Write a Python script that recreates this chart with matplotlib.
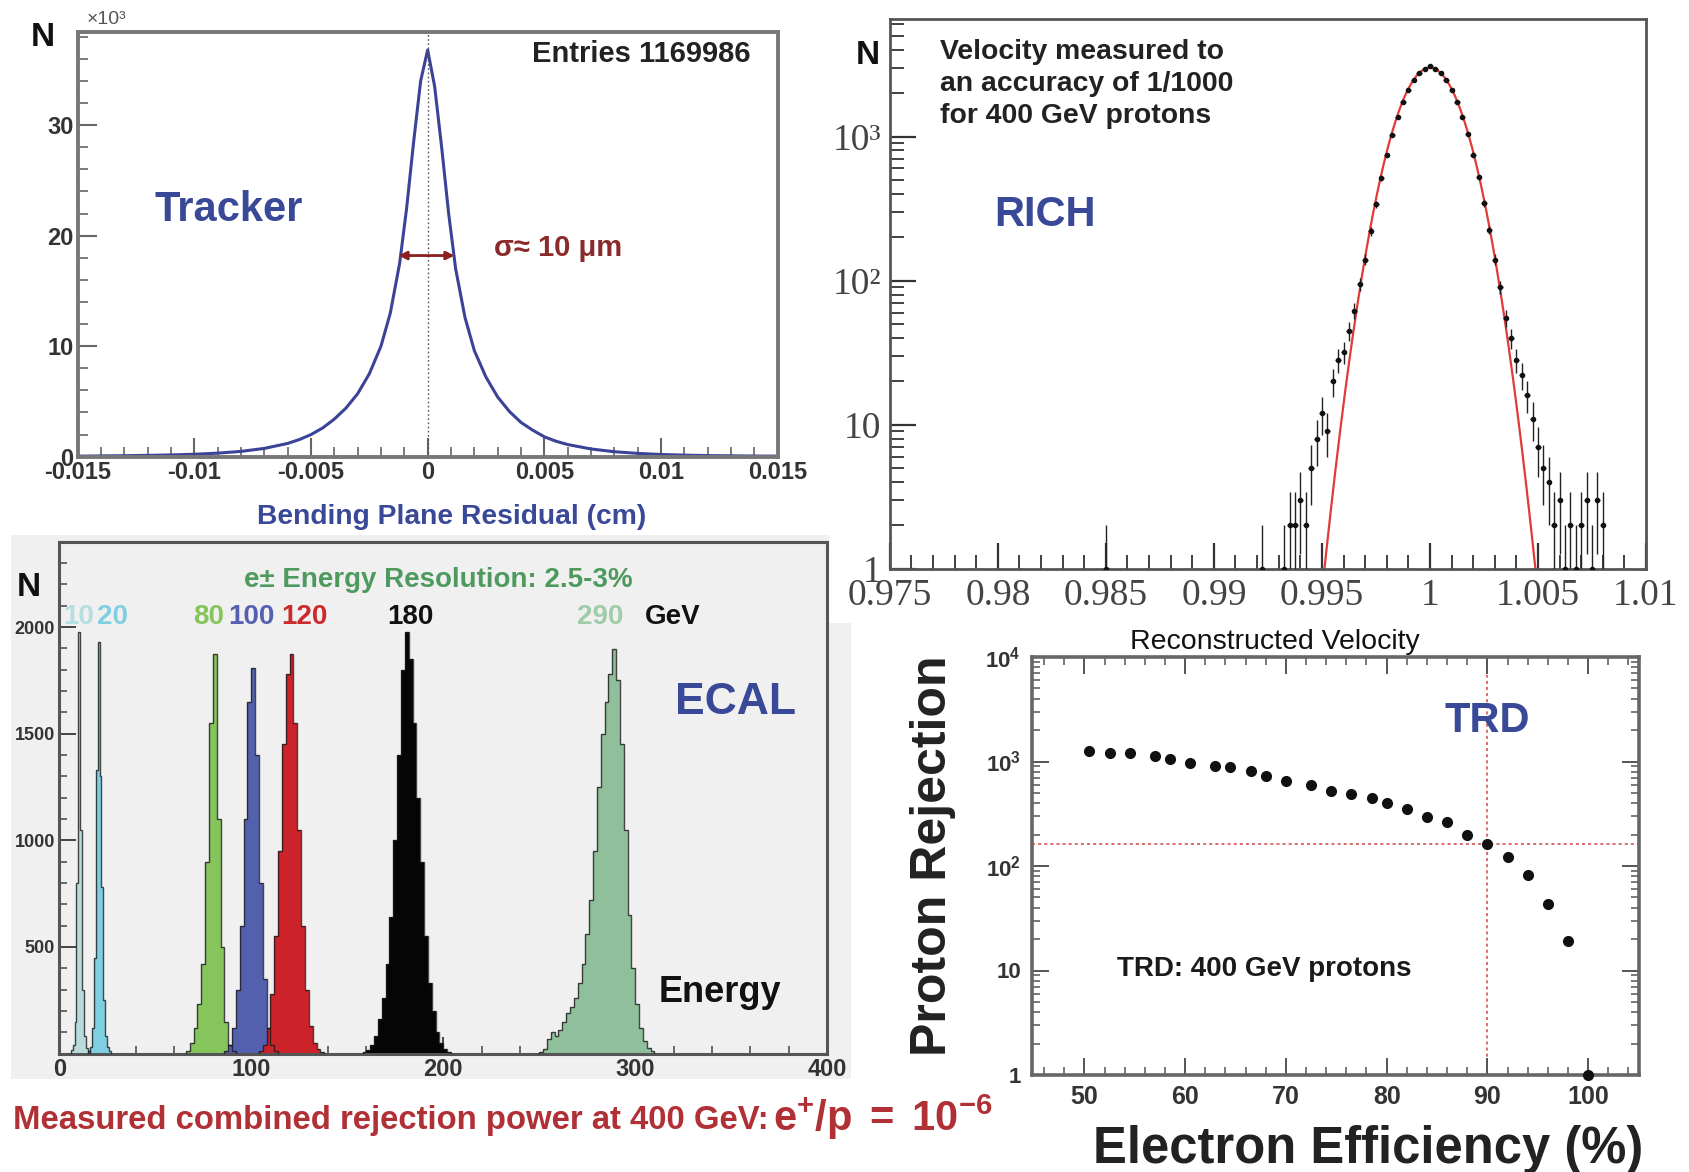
import numpy as np
import matplotlib
matplotlib.use("Agg")
import matplotlib.pyplot as plt
from matplotlib.patches import Rectangle
from matplotlib.ticker import MultipleLocator, LogLocator, NullFormatter, FixedLocator

plt.rcParams['mathtext.fontset'] = 'custom'
plt.rcParams['mathtext.rm'] = 'Liberation Sans:bold'
plt.rcParams['mathtext.it'] = 'Liberation Sans:bold'
plt.rcParams['mathtext.bf'] = 'Liberation Sans:bold'

SANS = ['Liberation Sans', 'DejaVu Sans']
SERIF = ['Liberation Serif', 'DejaVu Serif']

# ---------------- Tracker: bending plane residual (counts in thousands) ----------------
trk_residual = [-0.015, -0.014, -0.013, -0.012, -0.011, -0.010, -0.009, -0.008, -0.007,
                -0.006, -0.0055, -0.005, -0.0045, -0.004, -0.0035, -0.003, -0.0025,
                -0.002, -0.0016, -0.0012, -0.0009, -0.0006, -0.0003, 0.0,
                0.0003, 0.0006, 0.0009, 0.0012, 0.0016, 0.002, 0.0025, 0.003, 0.0035,
                0.004, 0.0045, 0.005, 0.0055, 0.006, 0.007, 0.008, 0.009, 0.010,
                0.011, 0.012, 0.013, 0.014, 0.015]
trk_counts_k = [0.05, 0.07, 0.09, 0.12, 0.16, 0.22, 0.32, 0.48, 0.75,
                1.2, 1.55, 2.0, 2.6, 3.4, 4.4, 5.7, 7.5,
                10.0, 13.0, 17.5, 22.5, 28.5, 34.0, 36.8,
                33.5, 28.0, 22.0, 17.0, 12.6, 9.6, 7.2, 5.4, 4.1,
                3.1, 2.4, 1.8, 1.4, 1.1, 0.7, 0.45, 0.3, 0.2,
                0.14, 0.1, 0.08, 0.06, 0.05]
trk_xticks = [-0.015, -0.01, -0.005, 0, 0.005, 0.01, 0.015]
trk_xlabels = ['-0.015', '-0.01', '-0.005', '0', '0.005', '0.01', '0.015']
trk_yticks = [0, 10, 20, 30]
trk_ylabels = ['0', '10', '20', '30']
trk_sigma_half = [-0.00125, 0.00115]
trk_sigma_level = 18.2

# ---------------- RICH: reconstructed velocity ----------------
rich_beta = [0.98500, 0.99225, 0.99325, 0.99350, 0.99375, 0.99400, 0.99425, 0.99450,
             0.99475, 0.99500, 0.99525, 0.99550, 0.99575, 0.99600, 0.99625, 0.99650,
             0.99675, 0.99700, 0.99725, 0.99750, 0.99775, 0.99800, 0.99825, 0.99850,
             0.99875, 0.99900, 0.99925, 0.99950, 0.99975, 1.00000, 1.00025, 1.00050,
             1.00075, 1.00100, 1.00125, 1.00150, 1.00175, 1.00200, 1.00225, 1.00250,
             1.00275, 1.00300, 1.00325, 1.00350, 1.00375, 1.00400, 1.00425, 1.00450,
             1.00475, 1.00500, 1.00525, 1.00550, 1.00575, 1.00600, 1.00625, 1.00650,
             1.00675, 1.00700, 1.00725, 1.00750, 1.00775, 1.00800]
rich_counts = [1, 1, 1, 2, 2, 3, 2, 5,
               8, 12, 9, 20, 28, 32, 45, 62,
               95, 140, 220, 340, 515, 745, 1030, 1370,
               1740, 2110, 2460, 2740, 2930, 3100, 2930, 2750,
               2470, 2120, 1740, 1375, 1035, 750, 520, 345,
               225, 140, 90, 55, 40, 28, 22, 16,
               11, 7, 5, 4, 2, 3, 1, 2,
               1, 2, 3, 1, 3, 2]
rich_bin_width = 0.00025
rich_fit_amplitude = 3000.0
rich_fit_mean = 1.0
rich_fit_sigma = 0.00122
rich_xticks = [0.975, 0.98, 0.985, 0.99, 0.995, 1.0, 1.005, 1.01]
rich_xlabels = ['0.975', '0.98', '0.985', '0.99', '0.995', '1', '1.005', '1.01']
rich_yticks = [1, 10, 100, 1000]
rich_ylabels = ['1', '10', '10²', '10³']

# ---------------- ECAL: energy spectra ----------------
ecal_beam_gev = [10, 20, 80, 100, 120, 180, 290]
ecal_low_edge = [6, 15, 66, 86, 104, 158, 250]
ecal_bin_width = [1, 1, 2, 2, 2, 2, 2]
ecal_counts_10 = [15, 40, 150, 800, 1975, 1050, 300, 80, 25, 10]
ecal_counts_20 = [10, 30, 120, 450, 1330, 1928, 1300, 780, 250, 80, 30, 10]
ecal_counts_80 = [10, 50, 120, 230, 420, 900, 1550, 1874, 1100, 500, 150, 40, 10]
ecal_counts_100 = [10, 40, 120, 300, 600, 1100, 1650, 1810, 1400, 800, 350, 120, 40, 10]
ecal_counts_120 = [10, 40, 120, 280, 550, 950, 1450, 1780, 1874, 1550, 1050, 600,
                   300, 130, 50, 20, 5]
ecal_counts_180 = [5, 15, 40, 80, 160, 260, 420, 640, 1000, 1400, 1800, 1978, 1850,
                   1550, 1200, 900, 550, 330, 200, 100, 50, 20, 8]
ecal_counts_290 = [5, 20, 70, 100, 80, 110, 150, 190, 220, 260, 330, 420, 560, 720,
                   950, 1250, 1500, 1650, 1780, 1899, 1750, 1450, 1050, 650, 400, 230,
                   120, 60, 25, 10]
ecal_counts = [ecal_counts_10, ecal_counts_20, ecal_counts_80, ecal_counts_100,
               ecal_counts_120, ecal_counts_180, ecal_counts_290]
ecal_fill = ['#b8dcdc', '#7fcfe2', '#86c45c', '#5360ae', '#cc2229', '#050505', '#8fbf9b']
ecal_label_color = ['#b5dede', '#80d0e2', '#86c45c', '#5561b0', '#cc2a2a', '#111111', '#9fcca9']
ecal_xticks = [0, 100, 200, 300, 400]
ecal_yticks = [500, 1000, 1500, 2000]

# ---------------- TRD: proton rejection vs electron efficiency ----------------
trd_efficiency = [50.5, 52.5, 54.5, 57, 58.5, 60.5, 63, 64.5, 66.5, 68, 70, 72.5,
                  74.5, 76.5, 78.5, 80, 82, 84, 86, 88, 90, 92, 94, 96, 98, 100]
trd_rejection = [1250, 1205, 1205, 1120, 1055, 975, 905, 880, 805, 725, 645, 590,
                 525, 485, 450, 400, 350, 297, 261, 198, 163, 121, 82, 43, 19, 1]
trd_ref_efficiency = 90
trd_ref_rejection = 163
trd_xticks = [50, 60, 70, 80, 90, 100]
trd_yticks = [1, 10, 100, 1000, 10000]
trd_ylabels = ['1', '10', '$10^{2}$', '$10^{3}$', '$10^{4}$']

BLUE = '#3a4898'

W, H = 1689, 1172
fig = plt.figure(figsize=(W / 100, H / 100), dpi=100)
fig.patch.set_facecolor('white')


def frac(l, t, r, b):
    return [l / W, 1 - b / H, (r - l) / W, (b - t) / H]


def ftext(x, y, s, **kw):
    kw.setdefault('ha', 'center')
    kw.setdefault('va', 'center')
    kw.setdefault('fontfamily', SANS)
    return fig.text(x / W, 1 - y / H, s, **kw)


def style_spines(ax, color, lw):
    for sp in ax.spines.values():
        sp.set_color(color)
        sp.set_linewidth(lw)


# grey canvas behind the calorimeter panel
for (l, t, r, b) in [(11, 623, 851, 1079), (11, 535, 829, 623)]:
    fig.add_artist(Rectangle((l / W, 1 - b / H), (r - l) / W, (b - t) / H,
                             transform=fig.transFigure, facecolor='#f0f0f0',
                             edgecolor='none', zorder=-5))

# ================= Tracker =================
ax1 = fig.add_axes(frac(77.6, 32.3, 777.7, 456.7))
ax1.plot(trk_residual, trk_counts_k, color='#3b4398', lw=2.2)
ax1.axvline(0, color='#555', ls=(0, (1.2, 1.8)), lw=1.0)
ax1.annotate('', xy=(trk_sigma_half[0], trk_sigma_level),
             xytext=(trk_sigma_half[1], trk_sigma_level),
             arrowprops=dict(arrowstyle='<|-|>', color='#8b1e1e', lw=2,
                             mutation_scale=12, shrinkA=0, shrinkB=0))
ax1.set_xlim(-0.015, 0.015)
ax1.set_ylim(0, 38.4)
ax1.set_xticks(trk_xticks, trk_xlabels, fontsize=17, fontfamily=SANS,
               fontweight='bold', color='#333')
ax1.set_yticks(trk_yticks, trk_ylabels, fontsize=17, fontfamily=SANS,
               fontweight='bold', color='#333')
ax1.xaxis.set_minor_locator(MultipleLocator(0.001))
ax1.yaxis.set_minor_locator(MultipleLocator(2))
ax1.tick_params(which='both', direction='in', top=False, right=False, color='#666')
ax1.tick_params(which='major', length=14, width=1.5)
ax1.tick_params(which='minor', length=7, width=1.2)
ax1.tick_params(axis='x', pad=3)
ax1.tick_params(axis='y', pad=3)
style_spines(ax1, '#777', 2.8)

ftext(43, 38, 'N', fontsize=24, fontweight='bold', color='#111')
ftext(106, 19, '×10³', fontsize=14, color='#555')
ftext(641, 54, 'Entries 1169986', fontsize=21, fontweight='bold', color='#222')
ftext(229, 210, 'Tracker', fontsize=30, fontweight='bold', color=BLUE)
ftext(494, 248, 'σ≈ 10 μm', ha='left', fontsize=21, fontweight='bold', color='#8b2a2a')
ftext(452, 517, 'Bending Plane Residual (cm)', fontsize=20.3, fontweight='bold', color=BLUE)

# ================= RICH =================
ax2 = fig.add_axes(frac(889.8, 19.4, 1646, 568.8))
ax2.set_yscale('log', nonpositive='clip')
fit_x = np.linspace(0.9945, 1.0055, 400)
fit_y = rich_fit_amplitude * np.exp(-0.5 * ((fit_x - rich_fit_mean) / rich_fit_sigma) ** 2)
ax2.plot(fit_x, fit_y, color='#e23a3a', lw=1.6, zorder=2)
rich_n = np.array(rich_counts, dtype=float)
rich_err = np.sqrt(rich_n)
ax2.errorbar(rich_beta, rich_n, yerr=[rich_err, rich_err], xerr=rich_bin_width / 2,
             fmt='o', ms=3.0, color='#111', ecolor='#222', elinewidth=1.0,
             capsize=0, zorder=3)
ax2.set_xlim(0.975, 1.01)
ax2.set_ylim(1, 6500)
ax2.set_xticks(rich_xticks, rich_xlabels, fontsize=27, fontfamily=SERIF, color='#444')
ax2.xaxis.set_minor_locator(MultipleLocator(0.001))
ax2.yaxis.set_major_locator(FixedLocator(rich_yticks))
ax2.set_yticks(rich_yticks, rich_ylabels, fontsize=27, fontfamily=SERIF, color='#444')
ax2.yaxis.set_minor_locator(LogLocator(base=10, subs=np.arange(2, 10), numticks=20))
ax2.yaxis.set_minor_formatter(NullFormatter())
ax2.tick_params(which='both', direction='in', top=False, right=False, color='#333')
ax2.tick_params(which='major', length=19, width=1.6)
ax2.tick_params(which='minor', length=10, width=1.3)
ax2.tick_params(axis='x', pad=7)
ax2.tick_params(axis='y', pad=6)
style_spines(ax2, '#555', 2.0)

ftext(868, 56, 'N', fontsize=24, fontweight='bold', color='#111')
for i, line in enumerate(['Velocity measured to', 'an accuracy of 1/1000',
                          'for 400 GeV protons']):
    ftext(940, 52 + 32 * i, line, ha='left', fontsize=20.4, fontweight='bold', color='#222')
ftext(1045, 215, 'RICH', fontsize=30, fontweight='bold', color=BLUE)
ftext(1275, 642, 'Reconstructed Velocity', fontsize=20.5, color='#111')

# ================= ECAL =================
ax3 = fig.add_axes(frac(59.2, 541.8, 827.3, 1053.5), facecolor='#f0f0f0')
for counts, lo, bw, fc in zip(ecal_counts, ecal_low_edge, ecal_bin_width, ecal_fill):
    edges = lo + bw * np.arange(len(counts) + 1)
    ax3.stairs(counts, edges, fill=True, color=fc, zorder=2)
    ax3.stairs(counts, edges, fill=False, color='#1a1a1a', lw=1.0, alpha=0.8, zorder=3)
ax3.set_xlim(0, 400)
ax3.set_ylim(0, 2400)
ax3.set_xticks(ecal_xticks, [str(v) for v in ecal_xticks], fontsize=17,
               fontfamily=SANS, fontweight='bold', color='#333')
ax3.set_yticks(ecal_yticks, [str(v) for v in ecal_yticks], fontsize=13,
               fontfamily=SANS, fontweight='bold', color='#333')
ax3.xaxis.set_minor_locator(MultipleLocator(20))
ax3.yaxis.set_minor_locator(MultipleLocator(100))
ax3.tick_params(which='both', direction='in', top=False, right=False, color='#444')
ax3.tick_params(which='major', length=12, width=1.4)
ax3.tick_params(which='minor', length=6, width=1.1)
ax3.tick_params(axis='x', pad=3)
ax3.tick_params(axis='y', pad=3)
style_spines(ax3, '#555', 2.2)

ftext(29, 587, 'N', fontsize=24, fontweight='bold', color='#111')
ftext(438, 580, 'e± Energy Resolution: 2.5-3%', fontsize=20, fontweight='bold',
      color='#4e9a5e')
ecal_label_x = [79, 112, 209, 251, 304, 410, 600]
for e, x, c in zip(ecal_beam_gev, ecal_label_x, ecal_label_color):
    ftext(x, 617, str(e), fontsize=20, fontweight='bold', color=c)
ftext(673, 617, 'GeV', fontsize=20, fontweight='bold', color='#111')
ftext(736, 702, 'ECAL', fontsize=32, fontweight='bold', color=BLUE)
ftext(720, 993, 'Energy', fontsize=26, fontweight='bold', color='#111')

# ================= TRD =================
ax4 = fig.add_axes(frac(1032, 657, 1639.5, 1075))
ax4.set_yscale('log')
ax4.axhline(trd_ref_rejection, color='#d04848', ls=(0, (2, 2)), lw=1.1, zorder=1)
ax4.axvline(trd_ref_efficiency, color='#d04848', ls=(0, (2, 2)), lw=1.1, zorder=1)
ax4.plot(trd_efficiency, trd_rejection, 'o', color='#111', ms=7, clip_on=False, zorder=3)
ax4.set_xlim(44.8, 105.1)
ax4.set_ylim(1, 1e4)
ax4.set_xticks(trd_xticks, [str(v) for v in trd_xticks], fontsize=18,
               fontfamily=SANS, fontweight='bold', color='#333')
ax4.set_yticks(trd_yticks, trd_ylabels, fontsize=16, fontfamily=SANS,
               fontweight='bold', color='#333')
ax4.xaxis.set_minor_locator(MultipleLocator(2))
ax4.yaxis.set_minor_locator(LogLocator(base=10, subs=np.arange(2, 10), numticks=20))
ax4.yaxis.set_minor_formatter(NullFormatter())
ax4.tick_params(which='both', direction='in', top=True, right=True, color='#555')
ax4.tick_params(which='major', length=12, width=1.4)
ax4.tick_params(which='minor', length=6, width=1.1)
ax4.tick_params(axis='x', pad=7)
ax4.tick_params(axis='y', pad=8)
style_spines(ax4, '#666', 2.6)

ftext(1487, 721, 'TRD', fontsize=30, fontweight='bold', color=BLUE)
ftext(1264, 969, 'TRD: 400 GeV protons', fontsize=20, fontweight='bold', color='#1a1a1a')
ftext(933, 856, 'Proton Rejection', rotation=90, fontsize=36, fontweight='bold',
      color='#222')
ftext(1368, 1150, 'Electron Efficiency (%)', fontsize=36.5, fontweight='bold', color='#222')

# ================= summary line =================
ftext(13, 1120, 'Measured combined rejection power at 400 GeV:', ha='left',
      fontsize=23.7, fontweight='bold', color='#b03035')
ftext(773, 1117, r'$\mathbf{e^{+}/p\;=\;10^{-6}}$', ha='left', fontsize=30,
      color='#b03035')

fig.savefig('out.png', dpi=100, facecolor='white')
